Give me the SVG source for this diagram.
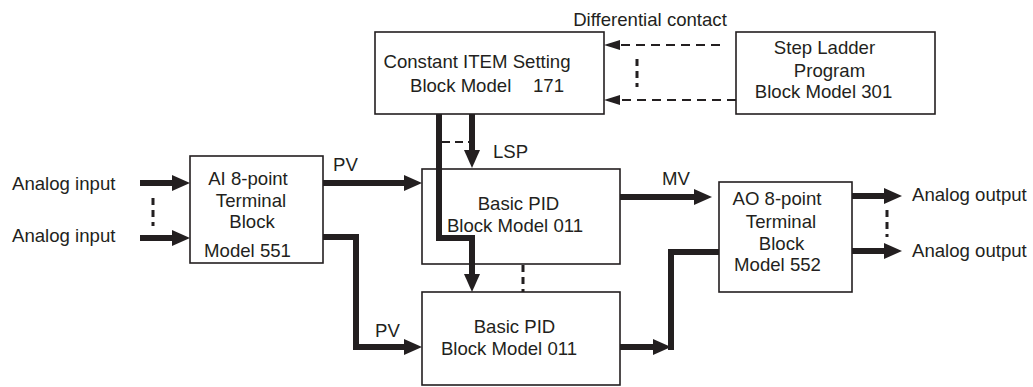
<svg xmlns="http://www.w3.org/2000/svg" width="1033" height="387" viewBox="0 0 1033 387">
<style>
.box{fill:#fff;stroke:#231f20;stroke-width:1.6}
text{font-family:"Liberation Sans",Arial,sans-serif;font-size:18.6px;fill:#231f20}
.c{text-anchor:middle}
.thick{fill:none;stroke:#231f20;stroke-width:6;stroke-linejoin:miter}
.thickA{fill:none;stroke:#231f20;stroke-width:6;marker-end:url(#ah)}
.dashA{fill:none;stroke:#231f20;stroke-width:2;stroke-dasharray:9,6;marker-end:url(#ahs)}
.dash{fill:none;stroke:#231f20;stroke-width:2;stroke-dasharray:8,5}
.dot{fill:none;stroke:#231f20;stroke-width:3;stroke-dasharray:7,5}
</style>
<defs>
<marker id="ah" markerUnits="userSpaceOnUse" markerWidth="18" markerHeight="16" refX="1" refY="8" orient="auto" viewBox="0 0 18 16">
<path d="M0,0 L18,8 L0,16 z" fill="#231f20"/>
</marker>
<marker id="ahs" markerUnits="userSpaceOnUse" markerWidth="16" markerHeight="10" refX="1" refY="5" orient="auto" viewBox="0 0 16 10">
<path d="M0,0 L16,5 L0,10 z" fill="#231f20"/>
</marker>
</defs>

<g id="const171">
<rect class="box" x="375" y="32" width="229" height="82"/>
<text x="477" y="68" class="c">Constant ITEM Setting</text>
<text x="410" y="92">Block Model</text>
<text x="533" y="92">171</text>
</g>

<g id="step301">
<rect class="box" x="736" y="32" width="199" height="82"/>
<text x="824.5" y="54" class="c">Step Ladder</text>
<text x="829.5" y="77" class="c">Program</text>
<text x="823.5" y="98" class="c">Block Model 301</text>
</g>

<g id="ai551">
<rect class="box" x="190" y="156" width="133" height="107"/>
<text x="248" y="185" class="c">AI 8-point</text>
<text x="251" y="207" class="c">Terminal</text>
<text x="252" y="228" class="c">Block</text>
<text x="247.5" y="257" class="c">Model 551</text>
</g>

<g id="pid1">
<rect class="box" x="422" y="169" width="198" height="95"/>
<text x="518.5" y="210" class="c">Basic PID</text>
<text x="515" y="232" class="c">Block Model 011</text>
</g>

<g id="pid2">
<rect class="box" x="422" y="292" width="198" height="93"/>
<text x="514.5" y="333" class="c">Basic PID</text>
<text x="509" y="355" class="c">Block Model 011</text>
</g>

<g id="ao552">
<rect class="box" x="719" y="182" width="133" height="110"/>
<text x="777" y="205" class="c">AO 8-point</text>
<text x="781" y="228" class="c">Terminal</text>
<text x="781.5" y="250" class="c">Block</text>
<text x="777.5" y="271" class="c">Model 552</text>
</g>

<g id="connectors">
<path class="thickA" d="M140,183 H173"/>
<path class="thickA" d="M140,238 H173"/>
<path class="dot" d="M153,198 V226"/>
<path class="thickA" d="M323,183 H405"/>
<path class="thickA" d="M323,237 H356 V347 H405"/>
<path class="thickA" d="M439,114 V238 H472 V275"/>
<path class="thickA" d="M472,114 V151"/>
<path class="dash" d="M442,142 H470"/>
<path class="dot" d="M523,265 V292"/>
<path class="thickA" d="M620,197 H695"/>
<path class="thickA" d="M620,347 H654"/>
<path class="thick" d="M671,350 V252 H719"/>
<path class="thickA" d="M852,196 H885"/>
<path class="thickA" d="M852,251 H885"/>
<path class="dot" d="M887,210 V237"/>
<path class="dashA" d="M720,45 H619"/>
<path class="dashA" d="M736,100 H619"/>
<path class="dot" d="M637,59 V87"/>
</g>

<g id="labels">
<text x="650" y="26" class="c">Differential contact</text>
<text x="12" y="190">Analog input</text>
<text x="12" y="242">Analog input</text>
<text x="333" y="171">PV</text>
<text x="375" y="337">PV</text>
<text x="493" y="158">LSP</text>
<text x="662" y="185">MV</text>
<text x="912" y="201">Analog output</text>
<text x="912" y="257">Analog output</text>
</g>
</svg>
